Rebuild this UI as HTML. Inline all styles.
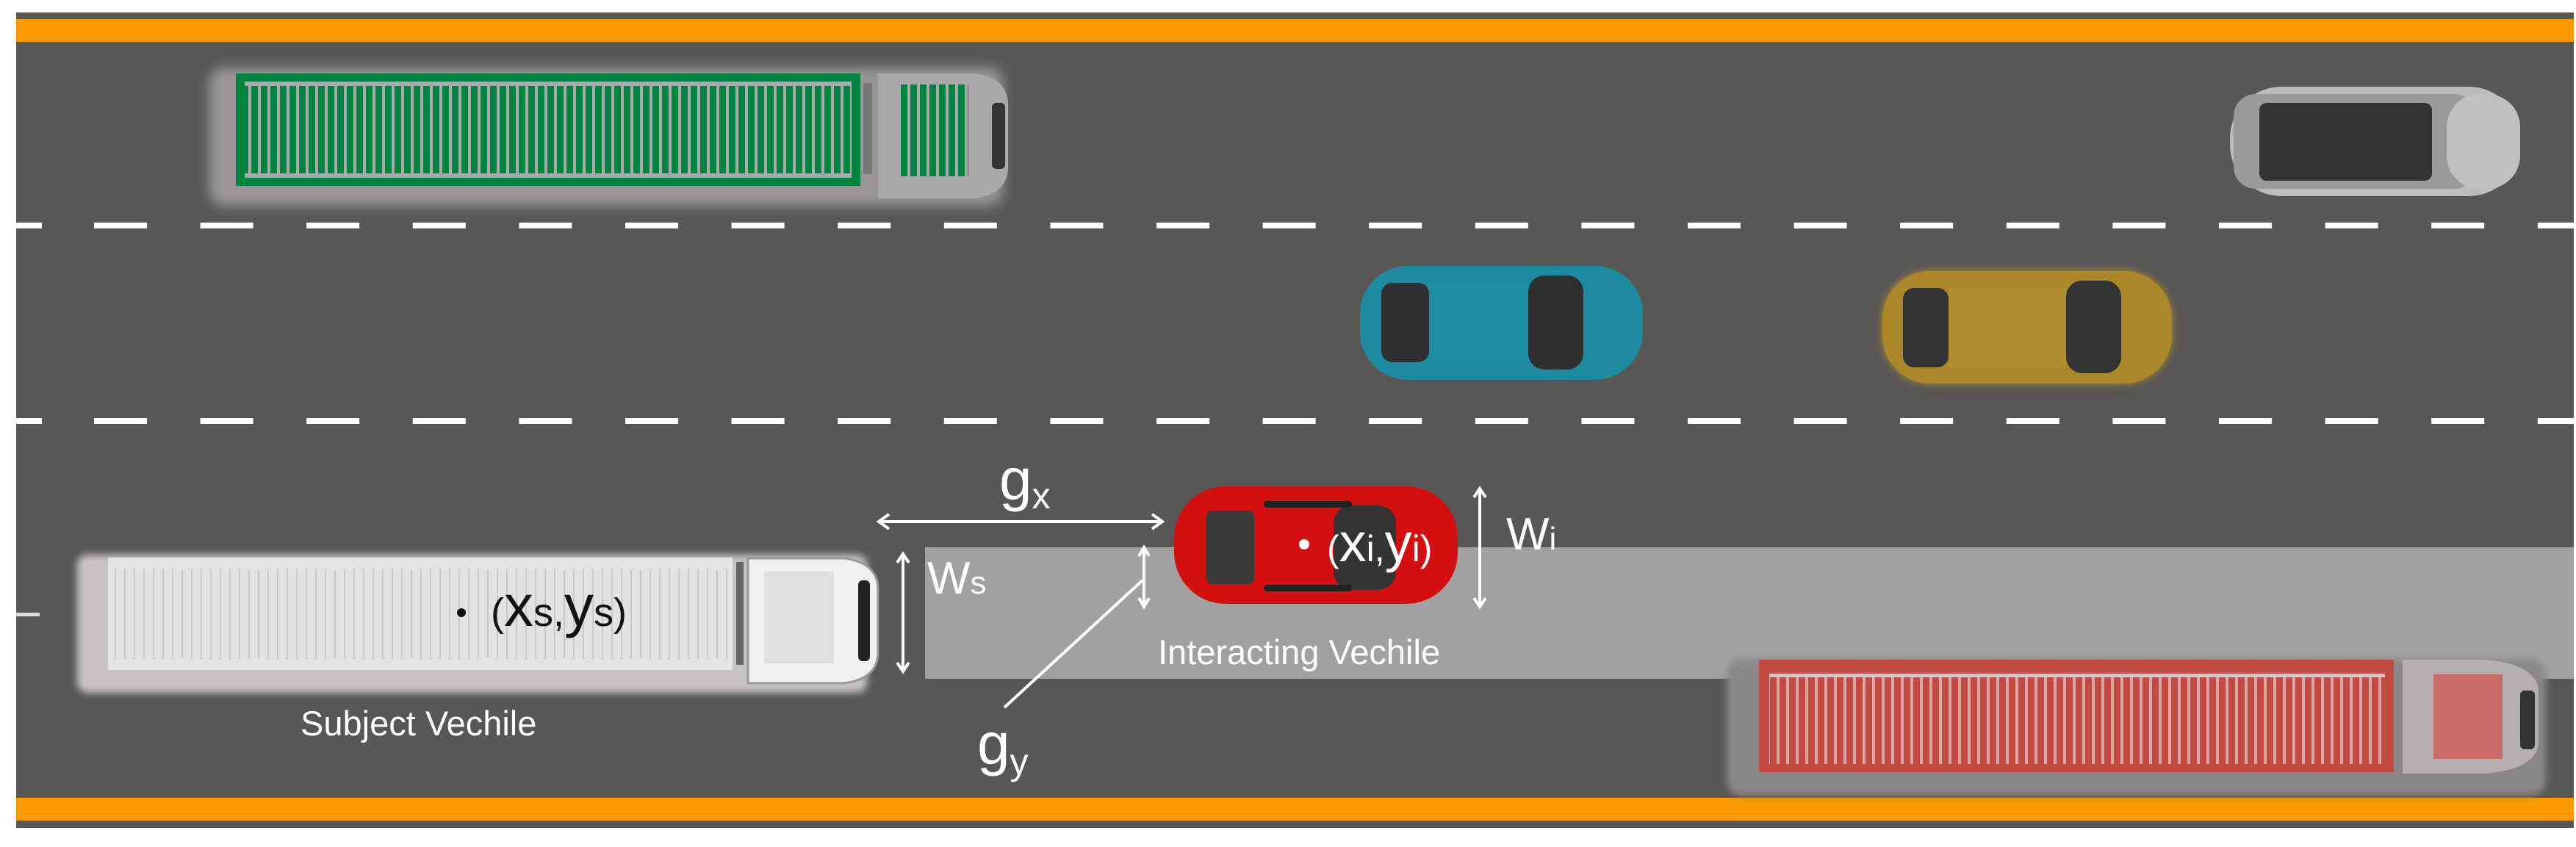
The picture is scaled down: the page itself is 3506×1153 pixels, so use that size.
<!DOCTYPE html>
<html><head><meta charset="utf-8"><style>
html,body{margin:0;padding:0;background:#fff;width:3506px;height:1153px;overflow:hidden}
svg{display:block}
text{font-family:"Liberation Sans",sans-serif;fill:#fff}
</style></head><body>
<svg width="3506" height="1153" viewBox="0 0 3506 1153" xmlns="http://www.w3.org/2000/svg">
<defs>
<pattern id="slatG" width="13" height="10" patternUnits="userSpaceOnUse"><rect width="13" height="10" fill="#00843f"/><rect x="0" width="4" height="10" fill="#a9a9a9"/></pattern>
<pattern id="slatW" width="13" height="10" patternUnits="userSpaceOnUse"><rect width="13" height="10" fill="#e2e2e2"/><rect x="0" width="2" height="10" fill="#c9c9c9"/></pattern>
<pattern id="slatR" width="13" height="10" patternUnits="userSpaceOnUse"><rect width="13" height="10" fill="#c24a42"/><rect x="0" width="4" height="10" fill="#d8a8a4"/></pattern>
<pattern id="dash" x="128" width="144.6" height="10" patternUnits="userSpaceOnUse"><rect width="72" height="10" fill="#fff"/></pattern>
<filter id="blur" x="-10%" y="-30%" width="120%" height="160%"><feGaussianBlur stdDeviation="8"/></filter>
<filter id="glow" x="-10%" y="-20%" width="120%" height="140%"><feGaussianBlur stdDeviation="5"/></filter>
</defs>
<rect x="22" y="17" width="3481" height="1110" fill="#585756"/>
<rect x="22" y="26" width="3481" height="31" fill="#fd9a00"/>
<rect x="22" y="1086" width="3481" height="31" fill="#fd9a00"/>
<rect x="22" y="303" width="3481" height="8" fill="url(#dash)"/>
<rect x="22" y="569" width="3481" height="8" fill="url(#dash)"/>
<rect x="22" y="303" width="35" height="8" fill="#fff"/>
<rect x="22" y="569" width="35" height="8" fill="#fff"/>
<rect x="22" y="834" width="32" height="5" fill="#ddd"/>
<rect x="1259" y="745" width="2244" height="179" fill="#a0a1a0"/>

<!-- green truck -->
<rect x="285" y="92" width="1080" height="188" rx="20" fill="#9a9697" filter="url(#blur)"/>
<rect x="321" y="100" width="850" height="153" fill="#00843f"/>
<rect x="333" y="115" width="826" height="122" fill="url(#slatG)"/>
<rect x="333" y="111" width="826" height="6" fill="#aaa"/>
<rect x="333" y="236" width="826" height="6" fill="#aaa"/>
<rect x="1175" y="113" width="12" height="124" fill="#777"/>
<path d="M1195 100 h130 q45 5 47 40 v90 q-2 35 -47 40 h-130 z" fill="#a9a9a9"/>
<rect x="1222" y="115" width="96" height="125" fill="url(#slatG)"/>
<rect x="1350" y="140" width="18" height="90" rx="6" fill="#333"/>

<!-- subject truck -->
<rect x="105" y="755" width="1075" height="188" rx="14" fill="#c7c3c5" filter="url(#glow)"/>
<rect x="147" y="759" width="850" height="153" fill="#e3e3e3"/>
<rect x="155" y="775" width="835" height="122" fill="url(#slatW)"/>
<rect x="1002" y="765" width="10" height="140" fill="#666"/>
<path d="M1018 760 h130 q45 5 47 40 v90 q-2 35 -47 40 h-130 z" fill="#f0f0f0" stroke="#999" stroke-width="3"/>
<rect x="1040" y="778" width="95" height="125" fill="#e0e0e0"/>
<rect x="1168" y="790" width="16" height="110" rx="6" fill="#222"/>

<!-- red truck -->
<rect x="2350" y="898" width="1115" height="185" rx="20" fill="#8a8787" filter="url(#glow)"/>
<rect x="2394" y="898" width="864" height="153" fill="#c24a42"/>
<rect x="2408" y="920" width="838" height="120" fill="url(#slatR)"/>
<rect x="2408" y="917" width="838" height="5" fill="#ccc"/>
<path d="M3270 898 h110 q70 5 75 40 v75 q-5 35 -75 40 h-110 z" fill="#b5b0b0"/>
<rect x="3312" y="918" width="94" height="115" fill="#c96a66"/>
<rect x="3430" y="940" width="20" height="80" rx="6" fill="#333"/>

<!-- white car -->
<rect x="3035" y="118" width="395" height="149" rx="70" fill="#bcbcbc"/>
<rect x="3040" y="128" width="330" height="129" rx="30" fill="#9a9a9a"/>
<rect x="3075" y="140" width="235" height="106" rx="10" fill="#333"/>
<rect x="3330" y="128" width="100" height="129" rx="45" fill="#c0c0c0"/>

<!-- teal car -->
<rect x="1851" y="362" width="385" height="155" rx="65" fill="#1d8aa0"/>
<rect x="1880" y="385" width="65" height="108" rx="15" fill="#2e2f30"/>
<rect x="2080" y="375" width="75" height="128" rx="22" fill="#2e2f30"/>
<rect x="1945" y="385" width="135" height="108" fill="#1f8ea5"/>

<!-- yellow car -->
<rect x="2562" y="369" width="394" height="153" rx="65" fill="#b08c2a" filter="url(#glow)"/>
<rect x="2562" y="369" width="394" height="153" rx="65" fill="#aa8728"/>
<rect x="2590" y="392" width="62" height="108" rx="15" fill="#333"/>
<rect x="2812" y="382" width="75" height="126" rx="22" fill="#333"/>
<rect x="2652" y="392" width="160" height="108" fill="#b08d31"/>

<!-- red car -->
<rect x="1598" y="662" width="386" height="160" rx="70" fill="#d40f10"/>
<rect x="1642" y="695" width="65" height="100" rx="8" fill="#3a3a3a"/>
<rect x="1815" y="688" width="85" height="115" rx="25" fill="#333"/>
<rect x="1720" y="682" width="120" height="9" rx="4" fill="#222"/>
<rect x="1720" y="796" width="120" height="9" rx="4" fill="#222"/>

<g stroke="#fff" stroke-width="4" fill="none">
<line x1="1196" y1="710" x2="1582" y2="710"/>
<polyline points="1210,700 1196,710 1210,720"/>
<polyline points="1568,700 1582,710 1568,720"/>
<line x1="1229" y1="754" x2="1229" y2="914"/>
<polyline points="1221,766 1229,754 1237,766"/>
<polyline points="1221,902 1229,914 1237,902"/>
<line x1="2014" y1="665" x2="2014" y2="826"/>
<polyline points="2006,677 2014,665 2022,677"/>
<polyline points="2006,814 2014,826 2022,814"/>
<line x1="1557" y1="745" x2="1557" y2="826"/>
<polyline points="1550,757 1557,745 1564,757"/>
<polyline points="1550,814 1557,826 1564,814"/>
<line x1="1555" y1="790" x2="1367" y2="963"/>
</g>
<circle cx="628" cy="834" r="6" fill="#111"/>
<circle cx="1775" cy="741" r="7" fill="#fff"/>
<text x="668" y="852" font-size="54" style="fill:#111">(<tspan font-size="80">x</tspan>s,<tspan font-size="80">y</tspan>s)</text>
<text x="1806" y="764" font-size="50">(<tspan font-size="74">x</tspan>i,<tspan font-size="74">y</tspan>i)</text>
<text x="1262" y="808" font-size="62">W<tspan font-size="44">s</tspan></text>
<text x="2050" y="748" font-size="62">W<tspan font-size="44">i</tspan></text>
<text x="1360" y="680" font-size="80">g<tspan font-size="50" dy="12">x</tspan></text>
<text x="1330" y="1040" font-size="80">g<tspan font-size="50" dy="14">y</tspan></text>
<text x="1576" y="904" font-size="47">Interacting Vechile</text>
<text x="409" y="1001" font-size="47">Subject Vechile</text>
</svg>
</body></html>
